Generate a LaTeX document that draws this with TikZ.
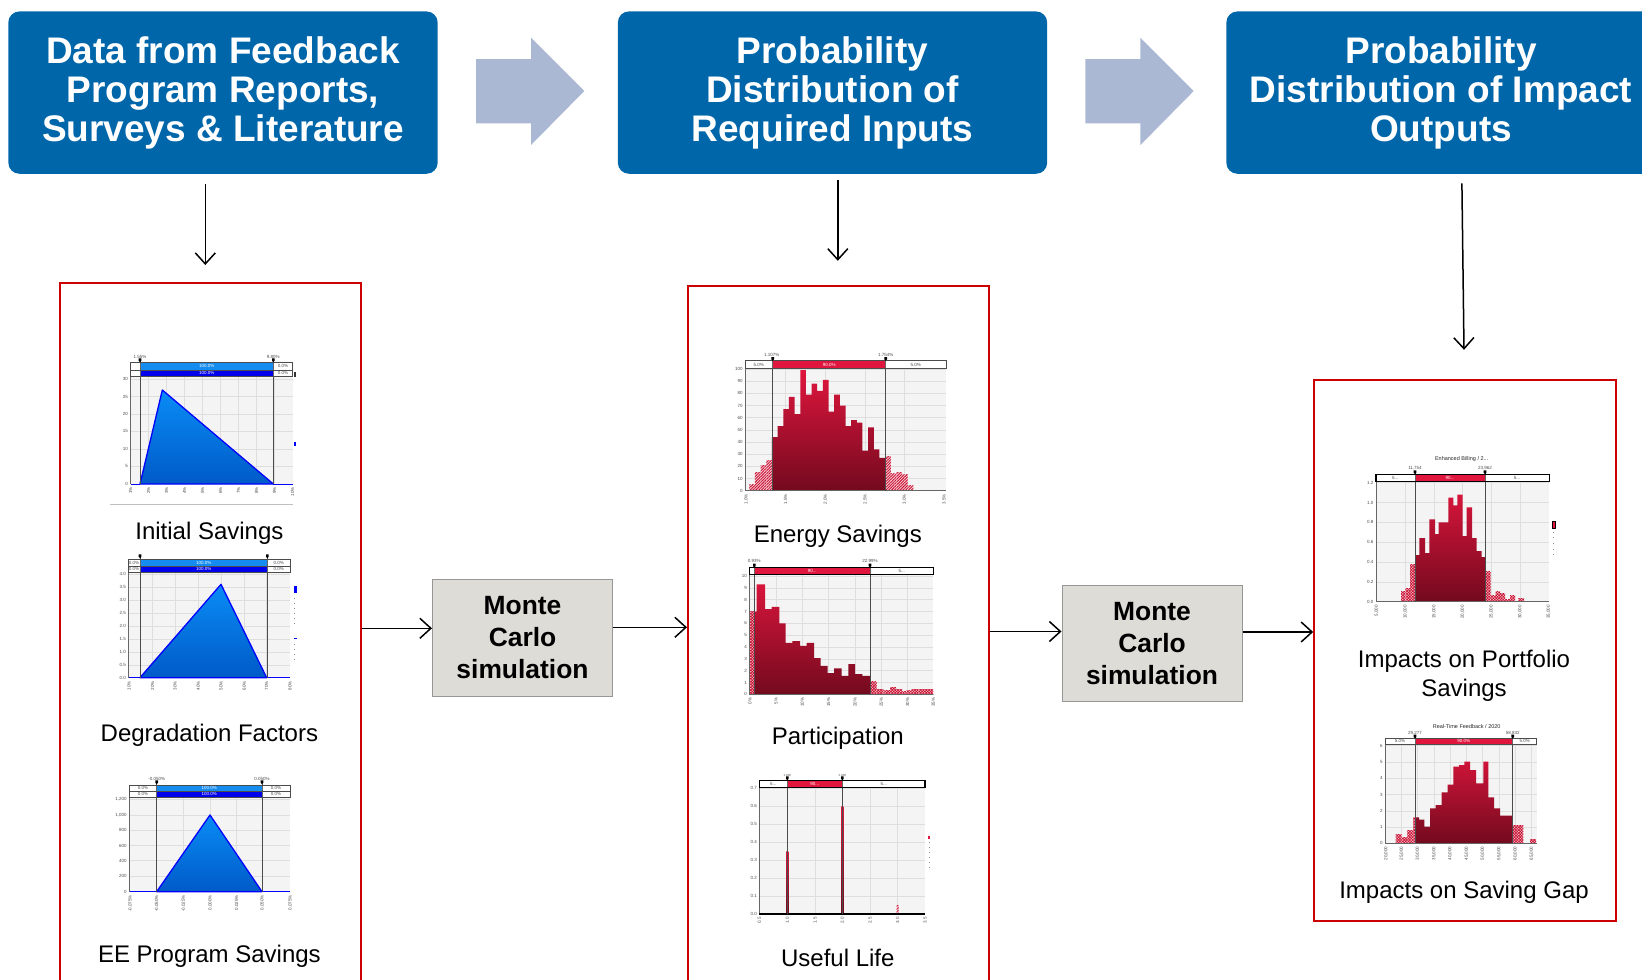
\documentclass[tikz,border=0pt]{standalone}
\usepackage{fontspec}
\setmainfont{Liberation Sans}
\usetikzlibrary{arrows.meta,patterns.meta}
\newcounter{tkn}
\definecolor{hdrblue}{RGB}{0,102,170}
\definecolor{arrblue}{RGB}{170,184,211}
\definecolor{boxred}{RGB}{204,0,0}
\definecolor{mcgray}{RGB}{221,220,214}
\definecolor{mcedge}{RGB}{150,150,150}
\definecolor{crim}{RGB}{225,22,62}
\definecolor{crimmid}{RGB}{200,16,50}
\definecolor{crimdark}{RGB}{115,10,30}
\definecolor{plotbg}{RGB}{244,244,244}
\definecolor{gridc}{RGB}{222,222,222}
\definecolor{bluea}{RGB}{20,140,240}
\definecolor{blueb}{RGB}{0,0,235}
\definecolor{trtop}{RGB}{10,140,245}
\definecolor{trbot}{RGB}{0,90,200}
\tikzset{
 autoname/.code={\stepcounter{tkn}\pgfkeysalso{/tikz/name=tk\arabic{tkn}}},
 hdr/.style={rounded corners=11pt, fill=hdrblue, text=white, align=center,
   font=\fontsize{37}{39}\selectfont\bfseries, minimum width=429.3pt, minimum height=162.3pt, inner sep=0pt},
 bigarrow/.style={fill=arrblue, draw=none},
 redbox/.style={draw=boxred, line width=2.2pt, fill=none, inner sep=0pt},
 mcbox/.style={fill=mcgray, draw=mcedge, line width=1pt, align=center,
   font=\fontsize{26.4}{32}\selectfont\bfseries, minimum width=180pt, minimum height=116.3pt, inner sep=0pt},
 lab/.style={font=\fontsize{24}{29}\selectfont, align=center, inner sep=0pt},
 conn/.style={line width=1.5pt, -{Straight Barb[length=11pt,width=20pt,line width=1.5pt]}},
 pbg/.style={fill=plotbg, draw=none},
 gl/.style={draw=gridc, line width=0.5pt},
 tk/.style={autoname, font=\fontsize{4.5}{4.5}\selectfont, text=black!70, inner sep=0.5pt},
 tkx/.style={tk, rotate=90, anchor=east},
 tky/.style={tk, anchor=east},
 rowb/.style={draw=black!70, line width=0.6pt},
 mline/.style={draw=black!70, line width=0.8pt},
 axl/.style={draw=black!60, line width=0.6pt},
 redshade/.style={top color=crim, middle color=crimmid, bottom color=crimdark},
 hatch/.style={preaction={fill=crim!20}, pattern={Lines[angle=45,distance=2pt,line width=0.9pt]}, pattern color=crimmid},
 hatchx/.style={preaction={fill=crim!20}, pattern={Hatch[angle=45,distance=2pt,line width=0.7pt]}, pattern color=crimmid},
 tri/.style={top color=trtop, bottom color=trbot, draw=blue, line width=1.3pt, line join=round},
 ttl/.style={autoname, font=\fontsize{5.5}{6}\selectfont, text=black!85, inner sep=0.5pt},
 zs/.style={x=0.33333pt, y=-0.33333pt},
}
% y1 y2 xl xa xb xr fill midtext
\newcommand{\barrow}[8]{%
 \fill[white] (#3,#1) rectangle (#6,#2);
 \fill[#7] (#4,#1) rectangle (#5,#2);
 \draw[black!60,line width=0.4pt] (#4,#1) -- (#4,#2) (#5,#1) -- (#5,#2);
 \draw[rowb] (#3,#1) rectangle (#6,#2);
 \node[tk,text=white] at ({(#4+#5)/2},{(#1+#2)/2}) {#8};
}
\newcommand{\pinmark}[2]{\fill[black] ({#1-4},{#2-9}) rectangle ({#1+4},{#2-2}) ({#1-4},{#2-2}) -- ({#1+4},{#2-2}) -- (#1,{#2+3}) -- cycle;}
\begin{document}
\begin{tikzpicture}[x=1pt,y=-1pt]
\useasboundingbox (0,0) rectangle (1642,980);

% ---------- headers ----------
\node[hdr] (h1) at (223,92.6) {Data from Feedback\\Program Reports,\\Surveys \& Literature};
\node[hdr] (h2) at (832.5,92.6) {Probability\\Distribution of\\Required Inputs};
\node[hdr] (h3) at (1441,92.6) {Probability\\Distribution of Impact\\Outputs};

\fill[bigarrow] (476,59) -- (531,59) -- (531,37.7) -- (584.3,91) -- (531,145) -- (531,123.3) -- (476,123.3) -- cycle;
\fill[bigarrow] (1085.4,59) -- (1140.4,59) -- (1140.4,37.7) -- (1193.7,91) -- (1140.4,145) -- (1140.4,123.3) -- (1085.4,123.3) -- cycle;

% ---------- red boxes ----------
\node[redbox, minimum width=301.6pt, minimum height=740pt, anchor=north west] (rb1) at (58.6,281.7) {};
\node[redbox, minimum width=300.5pt, minimum height=740pt, anchor=north west] (rb2) at (687,284.8) {};
\node[redbox, minimum width=301.6pt, minimum height=540.5pt, anchor=north west] (rb3) at (1313.2,379) {};

% ---------- Monte Carlo ----------
\node[mcbox] (mc1) at (522.5,638) {Monte\\Carlo\\simulation};
\node[mcbox] (mc2) at (1152,643.3) {Monte\\Carlo\\simulation};

% ---------- captions ----------
\node[lab] (cap1) at (209.4,533) {Initial Savings};
\node[lab] (cap2) at (209.4,735) {Degradation Factors};
\node[lab] (cap3) at (209.4,956) {EE Program Savings};
\node[lab] (cap4) at (837.8,536) {Energy Savings};
\node[lab] (cap5) at (837.8,738.2) {Participation};
\node[lab] (cap6) at (837.8,957.5) {Useful Life};
\node[lab] (cap7) at (1464,676) {Impacts on Portfolio\\Savings};
\node[lab] (cap8) at (1464,892.5) {Impacts on Saving Gap};

% ---------- chart 1: Initial Savings ----------
\begin{scope}[shift={(110,340)},zs]
 \fill[pbg] (62,110) rectangle (548,432);
 \foreach \y in {117,170,222,273,327,378} \draw[gl] (62,\y) -- (548,\y);
 \foreach \x in {116,170,224,278,332,386,440,494} \draw[gl] (\x,110) -- (\x,432);
 \foreach \y/\t in {117/30,170/25,222/20,273/15,327/10,378/5,432/0} \node[tky] at (56,\y) {\t};
 \draw[tri] (90,432) -- (157,150) -- (490,432) -- cycle;
 \draw[blue,line width=1pt] (62,432) -- (90,432) (490,432) -- (548,432);
 \draw[axl] (62,110) -- (62,432);
 \draw[mline] (90,62) -- (90,432) (490,62) -- (490,432);
 \barrow{68}{90}{62}{90}{490}{548}{bluea}{100.0\%}
 \barrow{90}{110}{62}{90}{490}{548}{blueb}{100.0\%}
 \node[tk] at (519,79) {0.0\%}; \node[tk] at (519,100) {0.0\%};
 \pinmark{90}{64} \pinmark{490}{64}
 \node[tk] at (90,50) {1.55\%}; \node[tk] at (490,50) {9.80\%};
 \foreach \x [count=\i] in {62,116,170,224,278,332,386,440,494,548} \node[tkx] at (\x,440) {\i\%};
 \draw[black!25,line width=0.8pt] (0,493) -- (550,493);
 \fill[black!80] (553,96) rectangle (557,110);
 \fill[blue] (553,305) rectangle (557,318);
\end{scope}

% ---------- chart 2: Degradation Factors ----------
\begin{scope}[shift={(110,550)},zs]
 \fill[pbg] (55,68) rectangle (540,383);
 \foreach \k in {0,...,7} \draw[gl] (55,{73+\k*38.75}) -- (540,{73+\k*38.75});
 \foreach \x in {128,195,265,333,403,470} \draw[gl] (\x,68) -- (\x,383);
 \foreach \t [count=\k from 0] in {4.0,3.5,3.0,2.5,2.0,1.5,1.0,0.5,0.0} \node[tky] at (50,{73+\k*38.75}) {\t};
 \draw[tri] (90,383) -- (333,103) -- (470,383) -- cycle;
 \draw[blue,line width=1pt] (55,383) -- (90,383) (470,383) -- (540,383);
 \draw[axl] (55,68) -- (55,383);
 \draw[mline] (90,22) -- (90,383) (472,22) -- (472,383);
 \barrow{27}{48}{55}{90}{472}{540}{bluea}{100.0\%}
 \barrow{48}{68}{55}{90}{472}{540}{blueb}{100.0\%}
 \node[tk] at (72,37.5) {0.0\%}; \node[tk] at (72,58) {0.0\%};
 \node[tk] at (506,37.5) {0.0\%}; \node[tk] at (506,58) {0.0\%};
 \pinmark{90}{22} \pinmark{472}{22}
 \foreach \x/\t in {57/10,128/20,195/30,265/40,333/50,403/60,470/70,540/80} \node[tkx] at (\x,392) {\t\%};
 \fill[blue] (553,108) rectangle (560,128);
 \foreach \y in {145,160,175,190,205,220} \fill[black!45] (553,\y) rectangle (556,{\y+3});
 \fill[blue] (553,264) rectangle (560,267);
 \foreach \y in {283,298,313,328} \fill[black!45] (553,\y) rectangle (556,{\y+3});
\end{scope}

% ---------- chart 3: EE Program Savings ----------
\begin{scope}[shift={(110,775)},zs]
 \fill[pbg] (58,68) rectangle (540,350);
 \foreach \y in {73,120,165,212,257,303} \draw[gl] (58,\y) -- (540,\y);
 \foreach \x in {140,220,300,380,456} \draw[gl] (\x,68) -- (\x,350);
 \foreach \y/\t in {73/{1,200},120/{1,000},165/800,212/600,257/400,303/200,350/0} \node[tky] at (52,\y) {\t};
 \draw[tri] (140,350) -- (300,120) -- (456,350) -- cycle;
 \draw[blue,line width=1pt] (58,350) -- (140,350) (456,350) -- (540,350);
 \draw[axl] (58,68) -- (58,350);
 \draw[mline] (140,25) -- (140,350) (456,25) -- (456,350);
 \barrow{30}{48}{58}{140}{456}{540}{bluea}{100.0\%}
 \barrow{48}{68}{58}{140}{456}{540}{blueb}{100.0\%}
 \node[tk] at (99,39) {0.0\%}; \node[tk] at (99,58) {0.0\%};
 \node[tk] at (498,39) {0.0\%}; \node[tk] at (498,58) {0.0\%};
 \pinmark{140}{25} \pinmark{456}{25}
 \node[tk] at (140,12) {-0.050\%}; \node[tk] at (456,12) {0.050\%};
 \foreach \x/\t in {60/-0.075,140/-0.050,220/-0.025,300/0.000,380/0.025,456/0.050,540/0.075} \node[tkx] at (\x,358) {\t\%};
\end{scope}

% ---------- chart 4: Energy Savings ----------
\begin{scope}[shift={(720,345)},zs]
 \fill[pbg] (75,70) rectangle (678,437);
 \foreach \v in {1,...,10} \draw[gl] (75,{437-\v*36.5}) -- (678,{437-\v*36.5});
 \foreach \x in {197,316,435,553} \draw[gl] (\x,70) -- (\x,437);
 \foreach \v [count=\i from 0] in {0,10,...,100} \node[tky] at (70,{437-\i*36.5}) {\v};
 \begin{scope}
  \clip foreach \h [count=\i from 4] in {44,53,67,77,63,99,79,88,82,91,65,79,70,53,58,56,33,52,34,27} {({88+\i*16.97},437) rectangle ({88+(\i+1)*16.97},{437-\h*3.65})};
  \shade[redshade] (75,70) rectangle (678,437);
 \end{scope}
 \foreach \h [count=\i from 0] in {5,15,21,25} \path[hatch] ({88+\i*16.97},437) rectangle ({88+(\i+1)*16.97},{437-\h*3.65});
 \foreach \h [count=\i from 24] in {28,14,15,13,4} \path[hatch] ({88+\i*16.97},437) rectangle ({88+(\i+1)*16.97},{437-\h*3.65});
 \draw[axl] (75,70) -- (75,437) -- (678,437);
 \draw[mline] (158,45) -- (158,437) (497,45) -- (497,437);
 \barrow{47}{70}{75}{158}{497}{678}{crim}{90.0\%}
 \node[tk] at (116,58.5) {5.0\%}; \node[tk] at (587,58.5) {5.0\%};
 \pinmark{158}{45} \pinmark{497}{45}
 \node[tk] at (155,30) {1.107\%}; \node[tk] at (497,30) {1.754\%};
 \foreach \x/\t in {78/1.0,197/1.5,316/2.0,435/2.5,553/3.0,672/3.5} \node[tkx] at (\x,445) {\t\%};
\end{scope}

% ---------- chart 5: Participation ----------
\begin{scope}[shift={(720,555)},zs,rowb/.style={draw=black,line width=1.1pt}]
 \fill[pbg] (88,58) rectangle (640,418);
 \foreach \v in {1,...,10} \draw[gl] (88,{418-\v*35.5}) -- (640,{418-\v*35.5});
 \foreach \x in {168,247,326,405,484,563} \draw[gl] (\x,58) -- (\x,418);
 \foreach \v in {0,...,10} \node[tky] at (83,{418-\v*35.5}) {\v};
 \begin{scope}
  \clip foreach \a/\b/\h in {103/110/7,110/135/9.3,135/155/7.2,155/178/7.4,178/197/6.0,197/217/4.35,217/240/4.5,240/260/4.1,260/282/4.35,282/302/3.05,302/323/2.4,323/342/1.8,342/365/2.2,365/385/1.55,385/405/2.55,405/427/1.7,427/450/1.55} {(\a,418) rectangle (\b,{418-\h*35.5})};
  \shade[redshade] (88,58) rectangle (640,418);
 \end{scope}
 \foreach \a/\b/\h in {90/103/7,450/470/1.05,470/490/0.45,490/510/0.3,510/528/0.6,528/547/0.45,547/560/0.2,560/575/0.3,575/595/0.45,595/640/0.45} \path[hatchx] (\a,418) rectangle (\b,{418-\h*35.5});
 \draw[axl] (88,58) -- (88,418) -- (640,418);
 \draw[mline] (103,35) -- (103,418) (450,35) -- (450,418);
 \barrow{37}{58}{88}{103}{450}{640}{crim}{90...}
 \node[tk] at (545,47.5) {5...};
 \pinmark{103}{35} \pinmark{450}{35}
 \node[tk] at (103,18) {0.93\%}; \node[tk] at (450,18) {22.99\%};
 \foreach \x/\t in {90/0,168/5,247/10,326/15,405/20,484/25,563/30,640/35} \node[tkx] at (\x,426) {\t\%};
\end{scope}

% ---------- chart 6: Useful Life ----------
\begin{scope}[shift={(720,770)},zs,rowb/.style={draw=black,line width=1.1pt}]
 \fill[pbg] (118,52) rectangle (615,432);
 \foreach \v in {1,...,7} \draw[gl] (118,{432-\v*53.9}) -- (615,{432-\v*53.9});
 \foreach \x in {285,450,533} \draw[gl] (\x,52) -- (\x,432);
 \foreach \v in {0,...,7} \node[tky] at (113,{432-\v*53.9}) {0.\v};
 \shade[redshade] (199,243.4) rectangle (205,432);
 \shade[redshade] (364,108.6) rectangle (370,432);
 \path[hatch] (530,405) rectangle (536,432);
 \draw[black!60,line width=1pt] (118,52) -- (118,432);
 \draw[black,line width=1.2pt] (118,432) -- (615,432);
 \draw[mline] (202,28) -- (202,432) (367,28) -- (367,432);
 \barrow{32}{52}{118}{202}{367}{615}{crim}{90...}
 \node[tk] at (160,42) {5...}; \node[tk] at (491,42) {5...};
 \pinmark{202}{28} \pinmark{367}{28}
 \node[tk,font=\fontsize{3}{3}\selectfont] at (202,16) {1.000}; \node[tk,font=\fontsize{3}{3}\selectfont] at (367,16) {2.000};
 \foreach \x/\t in {118/0.5,202/1.0,285/1.5,367/2.0,450/2.5,533/3.0,615/3.5} \node[tkx] at (\x,440) {\t};
 \fill[crim] (624,197) rectangle (630,206);
 \foreach \y in {215,230,245,260,275,290} \fill[black!45] (626,\y) rectangle (628,{\y+3});
\end{scope}

% ---------- chart 7: Impacts on Portfolio Savings ----------
\begin{scope}[shift={(1340,450)},zs,rowb/.style={draw=black,line width=1.1pt}]
 \fill[pbg] (108,95) rectangle (628,455);
 \foreach \v in {1,...,6} \draw[gl] (108,{455-\v*59.5}) -- (628,{455-\v*59.5});
 \foreach \x in {196,282,368,454,540} \draw[gl] (\x,95) -- (\x,455);
 \foreach \t [count=\v from 0] in {0.0,0.2,0.4,0.6,0.8,1.0,1.2} \node[tky] at (102,{455-\v*59.5}) {\t};
 \begin{scope}
  \clip foreach \a/\b/\h in {225/238/0.47,238/255/0.64,255/268/0.49,268/285/0.83,285/296/0.68,296/310/0.80,310/325/0.80,325/340/1.05,340/352/0.97,352/368/1.08,368/380/0.66,380/396/0.95,396/410/0.64,410/425/0.51,425/435/0.45} {(\a,455) rectangle (\b,{455-\h*297.5})};
  \shade[redshade] (108,95) rectangle (628,455);
 \end{scope}
 \foreach \a/\b/\h in {183/196/0.10,196/210/0.13,210/225/0.37,435/452/0.30,452/467/0.06,467/480/0.10,480/495/0.08,495/510/0.02,510/525/0.06,535/552/0.03} \path[hatchx] (\a,455) rectangle (\b,{455-\h*297.5});
 \draw[axl] (108,95) -- (108,455) -- (628,455);
 \draw[mline] (225,70) -- (225,455) (435,70) -- (435,455);
 \barrow{73}{95}{108}{225}{435}{628}{crim}{90...}
 \node[tk] at (166,84) {5...}; \node[tk] at (531,84) {5...};
 \pinmark{225}{70} \pinmark{435}{70}
 \node[tk] at (225,55) {11,754}; \node[tk] at (435,55) {23,962};
 \node[ttl] at (365,28) {Enhanced Billing / 2...};
 \foreach \x/\t in {110/5,196/10,282/15,368/20,454/25,540/30,626/35} \node[tkx] at (\x,463) {\t,000};
 \draw[black,fill=crim,line width=0.6pt] (637,215) rectangle (645,235);
 \foreach \y in {245,262,279,296,313} \fill[black!45] (639,\y) rectangle (642,{\y+3});
\end{scope}

% ---------- chart 8: Impacts on Saving Gap ----------
\begin{scope}[shift={(1370,715)},zs]
 \fill[pbg] (45,87) rectangle (500,385);
 \foreach \v in {1,...,6} \draw[gl] (45,{385-\v*48.83}) -- (500,{385-\v*48.83});
 \foreach \x in {95,143,192,240,290,338,387,436,485} \draw[gl] (\x,87) -- (\x,385);
 \foreach \v in {0,...,6} \node[tky] at (40,{385-\v*48.83}) {\v};
 \begin{scope}
  \clip foreach \a/\b/\t in {135/147/307,147/163/314,163/180/335,180/197/280,197/215/270,215/233/232,233/250/209,250/267/155,267/283/150,283/300/140,300/318/165,318/340/205,340/355/140,355/372/247,372/390/280,390/410/302,410/428/302} {(\a,385) rectangle (\b,\t)};
  \shade[redshade] (45,87) rectangle (500,385);
 \end{scope}
 \foreach \a/\b/\t in {77/95/357,95/112/368,112/130/346,130/135/307,428/460/330,480/498/372} \path[hatchx] (\a,385) rectangle (\b,\t);
 \draw[axl] (45,87) -- (45,385) -- (500,385);
 \draw[mline] (135,68) -- (135,385) (428,68) -- (428,385);
 \barrow{70}{87}{45}{135}{428}{500}{crim}{90.0\%}
 \node[tk] at (90,78.5) {5.0\%}; \node[tk] at (464,78.5) {5.0\%};
 \pinmark{135}{68} \pinmark{428}{68}
 \node[tk] at (135,54) {29,277}; \node[tk] at (428,54) {58,832};
 \node[ttl] at (290,35) {Real-Time Feedback / 2020};
 \foreach \x/\t in {48/20,95/25,143/30,192/35,240/40,290/45,338/50,387/55,436/60,485/65} \node[tkx] at (\x,393) {\t,000};
\end{scope}

% ---------- connectors ----------
\coordinate (d1s) at (205.3,184.3); \coordinate (d1e) at (205.3,265);
\coordinate (d2s) at (837.8,180);   \coordinate (d2e) at (837.8,260.8);
\coordinate (d3s) at (1461.9,183.3); \coordinate (d3e) at (1464,349.8);
\draw[conn] (d1s) -- (d1e);
\draw[conn] (d2s) -- (d2e);
\draw[conn] (d3s) -- (d3e);
\coordinate (y1) at (0,628.3);
\coordinate (y2) at (0,627.3);
\coordinate (y3) at (0,631.5);
\coordinate (y4) at (0,632);
\draw[conn] (rb1.east |- y1) -- (mc1.west |- y1);
\draw[conn] (mc1.east |- y2) -- (rb2.west |- y2);
\draw[conn] (rb2.east |- y3) -- (mc2.west |- y3);
\draw[conn] (mc2.east |- y4) -- (rb3.west |- y4);
\end{tikzpicture}
\end{document}
